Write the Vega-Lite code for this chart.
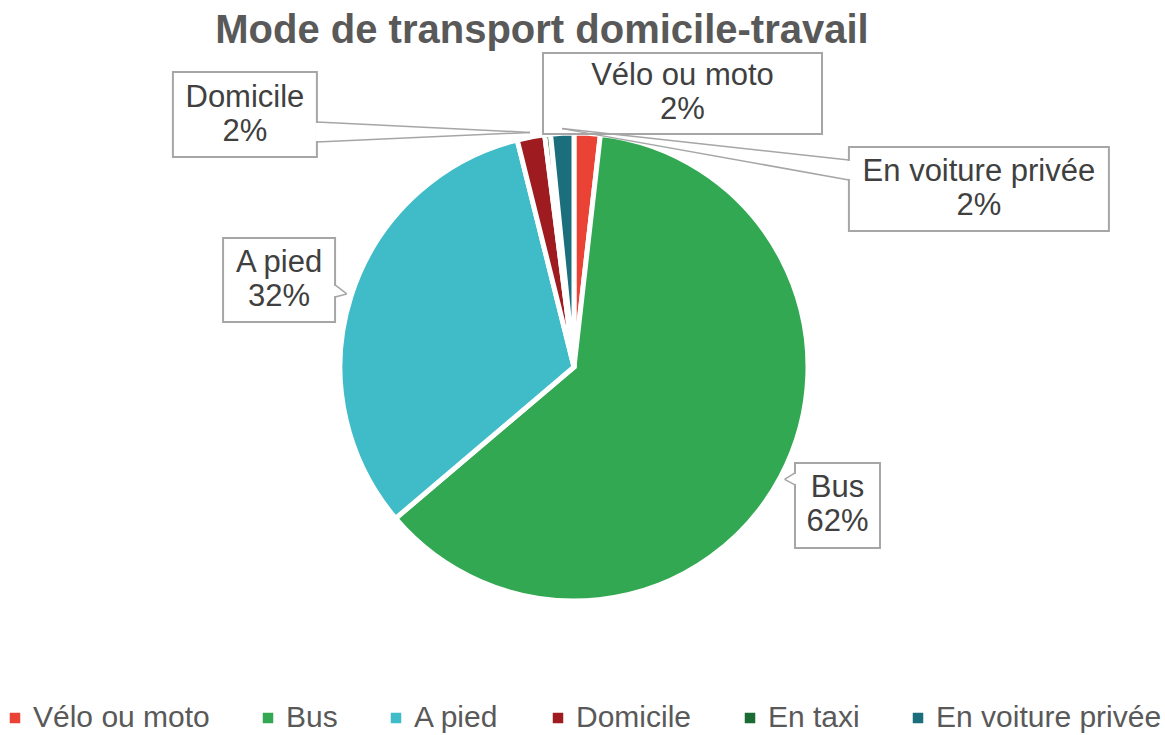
{
  "$schema": "https://vega.github.io/schema/vega-lite/v6.json",
  "width": 1148,
  "height": 594,
  "autosize": {"type": "none"},
  "padding": {"left": 0, "top": 70, "right": 17, "bottom": 71},
  "background": "white",
  "config": {"view": {"stroke": null}, "font": "Liberation Sans"},
  "title": {
    "text": "Mode de transport domicile-travail",
    "fontSize": 40,
    "fontWeight": "bold",
    "font": "Liberation Sans",
    "color": "#595959",
    "anchor": "middle",
    "dx": -32,
    "dy": 15,
    "offset": 16
  },
  "data": {
    "values": [
      {"mode": "Vélo ou moto", "pct": 1.8},
      {"mode": "Bus", "pct": 62.0},
      {"mode": "A pied", "pct": 32.3},
      {"mode": "Domicile", "pct": 1.9},
      {"mode": "En taxi", "pct": 0.4},
      {"mode": "En voiture privée", "pct": 1.6}
    ]
  },
  "transform": [
    {"window": [{"op": "row_number", "as": "idx"}]},
    {"joinaggregate": [{"op": "sum", "field": "pct", "as": "total"}]},
    {"window": [{"op": "sum", "field": "pct", "as": "cum"}], "sort": [{"field": "idx"}], "frame": [null, 0]},
    {"calculate": "2*PI*(datum.cum - datum.pct/2)/datum.total", "as": "mid"},
    {"calculate": "1.02*sin(datum.mid)", "as": "ax"},
    {"calculate": "1.02*cos(datum.mid)", "as": "ay"},
    {"calculate": "[datum.mode, format(datum.pct/100, '.0%')]", "as": "label"}
  ],
  "layer": [
    {
      "mark": {"type": "arc", "outerRadius": 234, "stroke": "white", "strokeWidth": 5},
      "encoding": {
        "theta": {"field": "pct", "type": "quantitative", "stack": true},
        "order": {"field": "idx", "type": "quantitative"},
        "color": {
          "field": "mode",
          "type": "nominal",
          "scale": {
            "domain": ["Vélo ou moto", "Bus", "A pied", "Domicile", "En taxi", "En voiture privée"],
            "range": ["#ea4335", "#33a852", "#3fbcc8", "#9e1b20", "#1b6b34", "#1b6f7d"]
          },
          "legend": {
            "orient": "none",
            "legendX": 0,
            "legendY": 633,
            "direction": "horizontal",
            "title": null,
            "symbolType": "square",
            "symbolSize": 110,
            "symbolStrokeWidth": 0,
            "labelFontSize": 30,
            "labelFont": "Liberation Sans",
            "labelColor": "#595959",
            "labelOffset": 3,
            "labelLimit": 500,
            "columnPadding": 43
          }
        }
      }
    },
    {
      "encoding": {
        "x": {"field": "ax", "type": "quantitative", "scale": {"domain": [-2.453, 2.453], "nice": false, "zero": false}, "axis": null},
        "y": {"field": "ay", "type": "quantitative", "scale": {"domain": [-1.2692, 1.2692], "nice": false, "zero": false}, "axis": null}
      },
      "layer": [
        {
          "transform": [{"filter": "datum.mode == 'Vélo ou moto'"}],
          "mark": {"type": "rect", "fill": "white", "stroke": "#a6a6a6", "strokeWidth": 2, "xOffset": -44.5, "x2Offset": 234.5, "yOffset": -75.7, "y2Offset": 5.3},
          "encoding": {"x2": {"field": "ax"}, "y2": {"field": "ay"}}
        },
        {
          "transform": [{"filter": "datum.mode == 'Bus'"}],
          "mark": {"type": "rect", "fill": "white", "stroke": "#a6a6a6", "strokeWidth": 2, "xOffset": 10.4, "x2Offset": 95.4, "yOffset": -16.4, "y2Offset": 68.6},
          "encoding": {"x2": {"field": "ax"}, "y2": {"field": "ay"}}
        },
        {
          "transform": [{"filter": "datum.mode == 'A pied'"}],
          "mark": {"type": "rect", "fill": "white", "stroke": "#a6a6a6", "strokeWidth": 2, "xOffset": -123.7, "x2Offset": -11.7, "yOffset": -56, "y2Offset": 28},
          "encoding": {"x2": {"field": "ax"}, "y2": {"field": "ay"}}
        },
        {
          "transform": [{"filter": "datum.mode == 'Domicile'"}],
          "mark": {"type": "rect", "fill": "white", "stroke": "#a6a6a6", "strokeWidth": 2, "xOffset": -357.1, "x2Offset": -213.1, "yOffset": -60.4, "y2Offset": 24.6},
          "encoding": {"x2": {"field": "ax"}, "y2": {"field": "ay"}}
        },
        {
          "transform": [{"filter": "datum.mode == 'En voiture privée'"}],
          "mark": {"type": "rect", "fill": "white", "stroke": "#a6a6a6", "strokeWidth": 2, "xOffset": 286.9, "x2Offset": 546.9, "yOffset": 18.3, "y2Offset": 102.3},
          "encoding": {"x2": {"field": "ax"}, "y2": {"field": "ay"}}
        },
        {
          "transform": [{"filter": "datum.mode == 'Bus'"}],
          "mark": {"type": "rule", "stroke": "white", "strokeWidth": 3, "xOffset": 10.4, "x2Offset": 10.4, "yOffset": -5.4, "y2Offset": 4.6},
          "encoding": {"x2": {"field": "ax"}, "y2": {"field": "ay"}}
        },
        {
          "transform": [{"filter": "datum.mode == 'A pied'"}],
          "mark": {"type": "rule", "stroke": "white", "strokeWidth": 3, "xOffset": -11.7, "x2Offset": -11.7, "yOffset": -8, "y2Offset": 2},
          "encoding": {"x2": {"field": "ax"}, "y2": {"field": "ay"}}
        },
        {
          "transform": [{"filter": "datum.mode == 'Domicile'"}],
          "mark": {"type": "rule", "stroke": "white", "strokeWidth": 3, "xOffset": -213.1, "x2Offset": -213.1, "yOffset": -9.4, "y2Offset": 8.6},
          "encoding": {"x2": {"field": "ax"}, "y2": {"field": "ay"}}
        },
        {
          "transform": [{"filter": "datum.mode == 'En voiture privée'"}],
          "mark": {"type": "rule", "stroke": "white", "strokeWidth": 3, "xOffset": 286.9, "x2Offset": 286.9, "yOffset": 32.3, "y2Offset": 50.3},
          "encoding": {"x2": {"field": "ax"}, "y2": {"field": "ay"}}
        },
        {
          "transform": [{"filter": "datum.mode == 'Bus'"}],
          "mark": {"type": "rule", "stroke": "#a6a6a6", "strokeWidth": 1.5, "x2Offset": 10.4, "y2Offset": -6.4},
          "encoding": {"x2": {"field": "ax"}, "y2": {"field": "ay"}}
        },
        {
          "transform": [{"filter": "datum.mode == 'Bus'"}],
          "mark": {"type": "rule", "stroke": "#a6a6a6", "strokeWidth": 1.5, "x2Offset": 10.4, "y2Offset": 5.6},
          "encoding": {"x2": {"field": "ax"}, "y2": {"field": "ay"}}
        },
        {
          "transform": [{"filter": "datum.mode == 'A pied'"}],
          "mark": {"type": "rule", "stroke": "#a6a6a6", "strokeWidth": 1.5, "x2Offset": -11.7, "y2Offset": -9},
          "encoding": {"x2": {"field": "ax"}, "y2": {"field": "ay"}}
        },
        {
          "transform": [{"filter": "datum.mode == 'A pied'"}],
          "mark": {"type": "rule", "stroke": "#a6a6a6", "strokeWidth": 1.5, "x2Offset": -11.7, "y2Offset": 3},
          "encoding": {"x2": {"field": "ax"}, "y2": {"field": "ay"}}
        },
        {
          "transform": [{"filter": "datum.mode == 'Domicile'"}],
          "mark": {"type": "rule", "stroke": "#a6a6a6", "strokeWidth": 1.5, "x2Offset": -213.1, "y2Offset": -10.4},
          "encoding": {"x2": {"field": "ax"}, "y2": {"field": "ay"}}
        },
        {
          "transform": [{"filter": "datum.mode == 'Domicile'"}],
          "mark": {"type": "rule", "stroke": "#a6a6a6", "strokeWidth": 1.5, "x2Offset": -213.1, "y2Offset": 9.6},
          "encoding": {"x2": {"field": "ax"}, "y2": {"field": "ay"}}
        },
        {
          "transform": [{"filter": "datum.mode == 'En voiture privée'"}],
          "mark": {"type": "rule", "stroke": "#a6a6a6", "strokeWidth": 1.5, "x2Offset": 286.9, "y2Offset": 31.3},
          "encoding": {"x2": {"field": "ax"}, "y2": {"field": "ay"}}
        },
        {
          "transform": [{"filter": "datum.mode == 'En voiture privée'"}],
          "mark": {"type": "rule", "stroke": "#a6a6a6", "strokeWidth": 1.5, "x2Offset": 286.9, "y2Offset": 51.3},
          "encoding": {"x2": {"field": "ax"}, "y2": {"field": "ay"}}
        },
        {
          "transform": [{"filter": "datum.mode == 'Vélo ou moto'"}],
          "mark": {"type": "text", "fontSize": 31, "color": "#404040", "align": "center", "baseline": "middle", "lineHeight": 34, "dx": 95, "dy": -52.2},
          "encoding": {"text": {"field": "label"}}
        },
        {
          "transform": [{"filter": "datum.mode == 'Bus'"}],
          "mark": {"type": "text", "fontSize": 31, "color": "#404040", "align": "center", "baseline": "middle", "lineHeight": 34, "dx": 52.9, "dy": 9.1},
          "encoding": {"text": {"field": "label"}}
        },
        {
          "transform": [{"filter": "datum.mode == 'A pied'"}],
          "mark": {"type": "text", "fontSize": 31, "color": "#404040", "align": "center", "baseline": "middle", "lineHeight": 34, "dx": -67.7, "dy": -31},
          "encoding": {"text": {"field": "label"}}
        },
        {
          "transform": [{"filter": "datum.mode == 'Domicile'"}],
          "mark": {"type": "text", "fontSize": 31, "color": "#404040", "align": "center", "baseline": "middle", "lineHeight": 34, "dx": -285.1, "dy": -34.9},
          "encoding": {"text": {"field": "label"}}
        },
        {
          "transform": [{"filter": "datum.mode == 'En voiture privée'"}],
          "mark": {"type": "text", "fontSize": 31, "color": "#404040", "align": "center", "baseline": "middle", "lineHeight": 34, "dx": 416.9, "dy": 43.3},
          "encoding": {"text": {"field": "label"}}
        }
      ]
    }
  ]
}
